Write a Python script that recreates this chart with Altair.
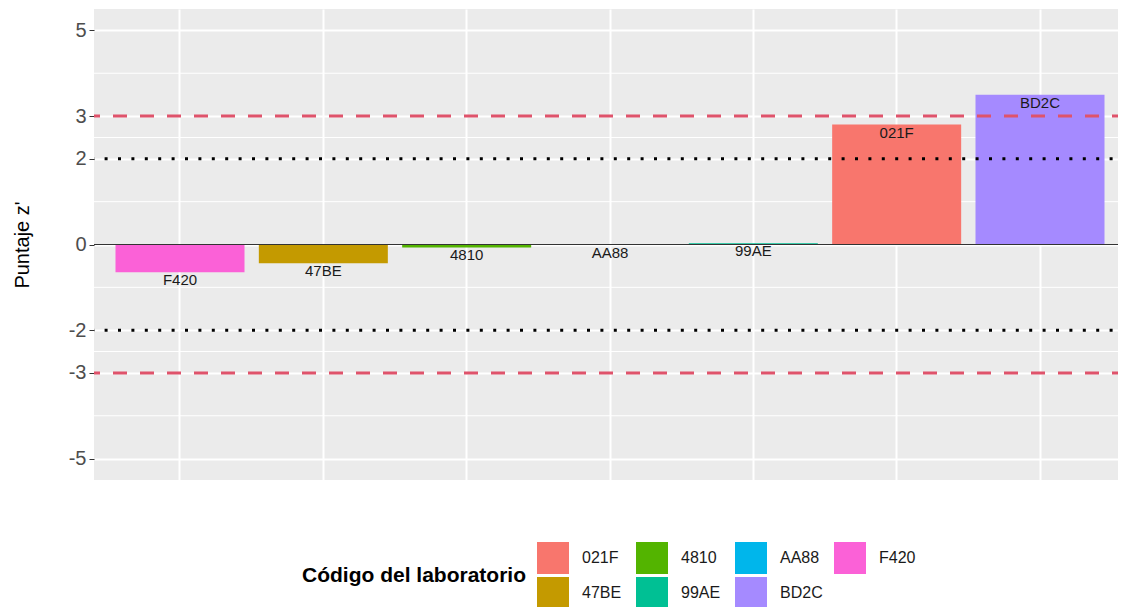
import altair as alt
import pandas as pd

labs = ["F420", "47BE", "4810", "AA88", "99AE", "021F", "BD2C"]
zvals = [-0.65, -0.44, -0.07, 0.0, 0.03, 2.80, 3.50]

legend_order = ["021F", "4810", "AA88", "F420", "47BE", "99AE", "BD2C"]
legend_colors = ["#F8766D", "#53B400", "#00B6EB", "#FB61D7", "#C49A00", "#00C094", "#A58AFF"]

major_ticks = [-5, -3, -2, 0, 2, 3, 5]
minor_grid = [4, 2.5, 1, -1, -2.5, -4]
dashed_lines = [3, -3]
dotted_lines = [2, -2]
zero_line = [0]

FONT = "Liberation Sans"
W, H = 1032, 471

df = pd.DataFrame({"lab": labs, "z": zvals})

yscale = alt.Scale(domain=[-5.5, 5.5], nice=False, zero=False)
xscale = alt.Scale(paddingInner=0.1, paddingOuter=0.15)

xenc = alt.X("lab:N", sort=labs, scale=xscale,
             axis=alt.Axis(labels=False, ticks=False, domain=False, title=None,
                           grid=True, gridColor="white", gridWidth=2, bandPosition=0.5))

minor = alt.Chart(pd.DataFrame({"v": minor_grid})).mark_rule(
    color="white", strokeWidth=1).encode(y=alt.Y("v:Q", scale=yscale))

bars = alt.Chart(df).mark_bar(strokeWidth=0).encode(
    x=xenc,
    y=alt.Y("z:Q", scale=yscale,
            axis=alt.Axis(values=major_ticks, title="Puntaje z'", labelFontSize=20,
                          labelExpr="'' + datum.value",
                          labelColor="#4D4D4D", labelFont=FONT, tickColor="#333333",
                          tickSize=5, labelPadding=3, domain=False, grid=True,
                          gridColor="white", gridWidth=2, titleFontSize=20,
                          titleFontWeight="normal", titleColor="black", titleFont=FONT,
                          titlePadding=36)),
    color=alt.Color("lab:N",
                    scale=alt.Scale(domain=legend_order, range=legend_colors),
                    legend=alt.Legend(title="Código del laboratorio", orient="none",
                                      legendX=208, legendY=533, columns=4,
                                      direction="horizontal",
                                      titleOrient="left", titleAnchor="middle",
                                      titleBaseline="middle", titleLimit=0,
                                      titleFontSize=21, titleFontWeight="bold",
                                      titleColor="black", titleFont=FONT, titlePadding=11,
                                      labelFontSize=16, labelColor="#1A1A1A", labelFont=FONT,
                                      labelOffset=13, symbolType="square", symbolSize=1024,
                                      symbolStrokeWidth=0, symbolOpacity=1,
                                      columnPadding=11, rowPadding=3, gridAlign="all",
                                      padding=0)),
)

zero = alt.Chart(pd.DataFrame({"v": zero_line})).mark_rule(
    color="#333333", strokeWidth=1.2).encode(y=alt.Y("v:Q", scale=yscale))

dashed = alt.Chart(pd.DataFrame({"v": dashed_lines})).mark_rule(
    color="#DF536B", strokeWidth=3, strokeDash=[14, 13]).encode(y=alt.Y("v:Q", scale=yscale))

dotted = alt.Chart(pd.DataFrame({"v": dotted_lines})).mark_rule(
    color="black", strokeWidth=3, strokeDash=[3, 10.4]).encode(y=alt.Y("v:Q", scale=yscale))

text = alt.Chart(df).mark_text(baseline="top", dy=1, fontSize=15, font=FONT,
                               color="#1A1A1A").encode(
    x=alt.X("lab:N", sort=labs, scale=xscale),
    y=alt.Y("z:Q", scale=yscale),
    text="lab:N",
)

chart = alt.layer(minor, bars, zero, dashed, dotted, text).properties(
    width=W, height=H,
    autosize=alt.AutoSizeParams(type="none"),
    padding={"left": 86, "top": 1, "right": -8, "bottom": 127},
    background="white",
).configure_view(fill="#EBEBEB", strokeWidth=0)

chart.save("out.html", embed_options={"renderer": "svg", "actions": False})
